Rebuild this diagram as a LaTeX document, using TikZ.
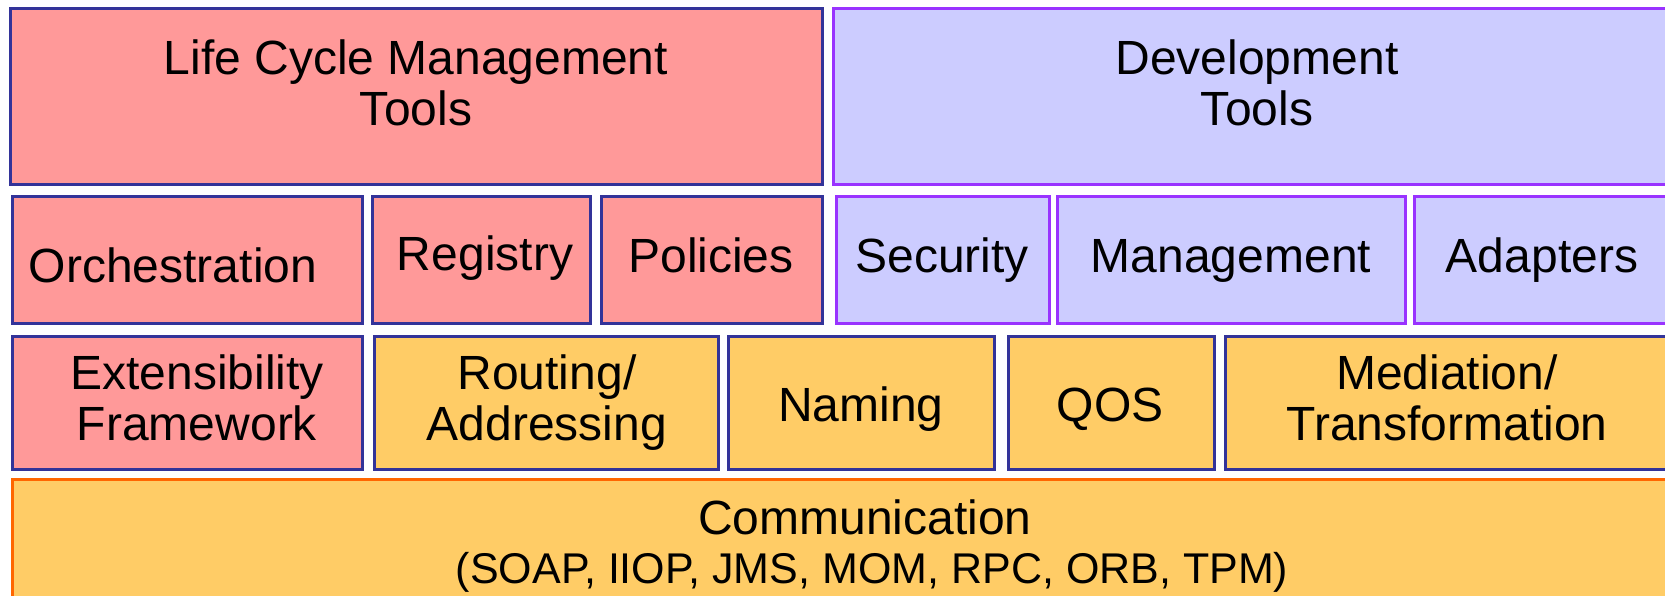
\documentclass[tikz,border=0pt]{standalone}
\usepackage{fontspec}
\setmainfont{Liberation Sans}
\definecolor{pinkfill}{HTML}{FF9999}
\definecolor{lavfill}{HTML}{CCCCFF}
\definecolor{orfill}{HTML}{FFCC66}
\definecolor{navyline}{HTML}{333399}
\definecolor{purpline}{HTML}{9933FF}
\definecolor{orline}{HTML}{FF6600}
\tikzset{
  pinkbox/.style={fill=pinkfill, draw=navyline, line width=3pt},
  lavbox/.style={fill=lavfill, draw=purpline, line width=3pt},
  orbox/.style={fill=orfill, draw=navyline, line width=3pt},
  commbox/.style={fill=orfill, draw=orline, line width=3pt},
  lbl/.style={anchor=base, align=center, inner sep=0pt, font=\fontsize{48}{51}\selectfont},
}
\begin{document}
\begin{tikzpicture}[x=1pt,y=-1pt]
\useasboundingbox (0,0) rectangle (1665,595);
\fill[white] (0,0) rectangle (1665,595);
\clip (0,0) rectangle (1665,595);
% row 1
\draw[pinkbox] (10,8) rectangle (822,184);
\draw[lavbox] (833,8) rectangle (1680,184);
% row 2
\draw[pinkbox] (12,196) rectangle (362,323);
\draw[pinkbox] (372,196) rectangle (590,323);
\draw[pinkbox] (601,196) rectangle (822,323);
\draw[lavbox] (836,196) rectangle (1049,323);
\draw[lavbox] (1057,196) rectangle (1405,323);
\draw[lavbox] (1414,196) rectangle (1680,323);
% row 3
\draw[pinkbox] (12,336) rectangle (362,469);
\draw[orbox] (374,336) rectangle (718,469);
\draw[orbox] (728,336) rectangle (994,469);
\draw[orbox] (1008,336) rectangle (1214,469);
\draw[orbox] (1225,336) rectangle (1680,469);
% row 4
\draw[commbox] (12,479) rectangle (1720,610);
% labels (base = last line's baseline)
\node[lbl] (lcm) at (416,125) {Life Cycle Management\\Tools};
\node[lbl] (dev) at (1257,125) {Development\\Tools};
\node[lbl] (orch) at (173,282) {Orchestration};
\node[lbl] (reg) at (485,270) {Registry};
\node[lbl] (pol) at (711,272) {Policies};
\node[lbl] (sec) at (942,272) {Security};
\node[lbl] (man) at (1231,272) {Management};
\node[lbl] (ada) at (1542,272) {Adapters};
\node[lbl] (ext) at (197,440) {Extensibility\\Framework};
\node[lbl] (rout) at (547,440) {Routing/\\Addressing};
\node[lbl] (nam) at (861,421) {Naming};
\node[lbl] (qos) at (1110,421) {QOS};
\node[lbl] (med) at (1447,440) {Mediation/\\Transformation};
\node[lbl] (comm) at (865,534) {Communication};
\node[lbl, font=\fontsize{43}{48}\selectfont] (proto) at (872,583) {(SOAP, IIOP, JMS, MOM, RPC, ORB, TPM)};
\end{tikzpicture}
\end{document}
